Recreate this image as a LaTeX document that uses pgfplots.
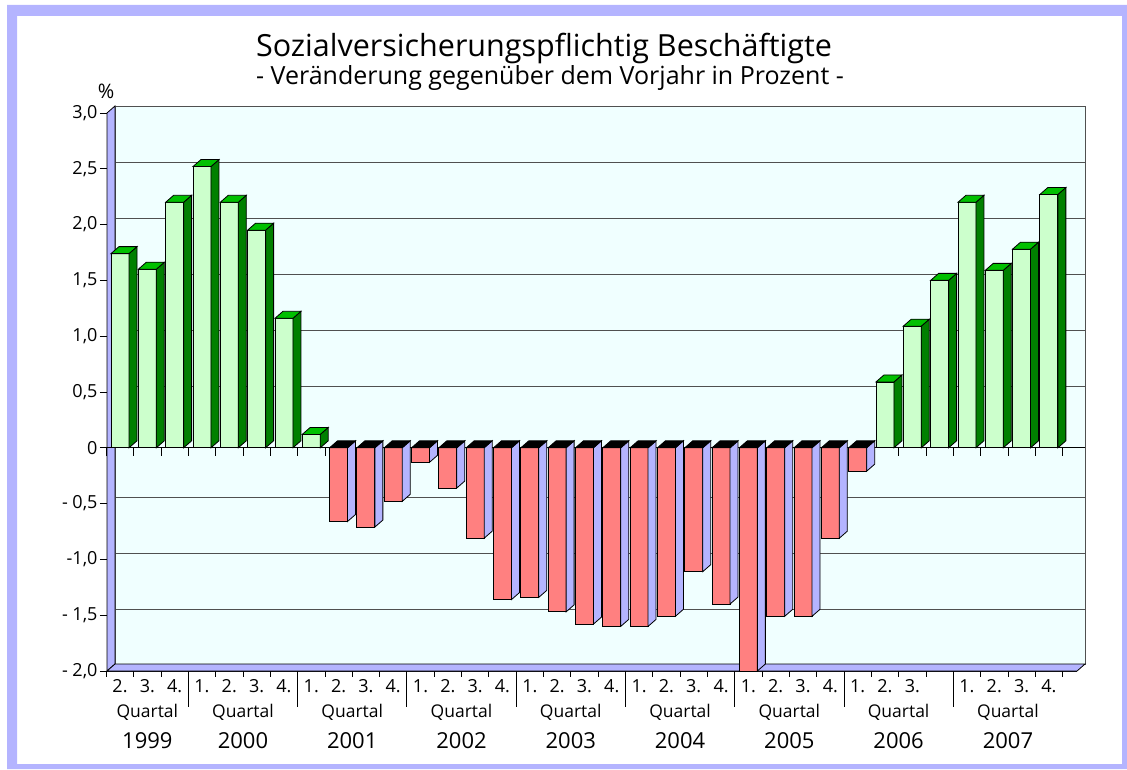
\documentclass[border=0pt]{standalone}
\usepackage{pgfplots}
\pgfplotsset{compat=1.18}
\usepackage{pgfplotstable}
\usepackage{fontspec}
\setmainfont{Open Sans}
\definecolor{lav}{HTML}{B4B4FF}
\definecolor{wall}{HTML}{F0FFFF}
\definecolor{gfront}{HTML}{CCFFCC}
\definecolor{gside}{HTML}{008000}
\definecolor{gtop}{HTML}{00C000}
\definecolor{rfront}{HTML}{FF8080}
\definecolor{gridc}{HTML}{505050}

% positive quarters (index, value)
\pgfplotstableread{
x v
1 1.74
2 1.60
3 2.20
4 2.52
5 2.20
6 1.95
7 1.16
8 0.12
29 0.59
30 1.09
31 1.50
32 2.20
33 1.59
34 1.78
35 2.27
}\postab
% negative quarters
\pgfplotstableread{
x v
9 -0.66
10 -0.71
11 -0.48
12 -0.13
13 -0.36
14 -0.81
15 -1.36
16 -1.34
17 -1.47
18 -1.58
19 -1.60
20 -1.60
21 -1.51
22 -1.11
23 -1.40
24 -2.00
25 -1.51
26 -1.51
27 -0.81
28 -0.21
}\negtab

\begin{document}
\begin{tikzpicture}
\useasboundingbox (0pt,0pt) rectangle (1127pt,769pt);
\fill[lav,even odd rule] (7pt,0pt) rectangle (1127pt,764pt) (17pt,5pt) rectangle (1122pt,753pt);
\node[font=\fontsize{30.5}{36}\selectfont] at (544pt,720pt) {Sozialversicherungspflichtig Beschäftigte};
\node[font=\fontsize{25}{30}\selectfont] at (550pt,691pt) {- Veränderung gegenüber dem Vorjahr in Prozent -};
\node[font=\fontsize{20}{24}\selectfont] at (106pt,678pt) {\%};
\begin{axis}[
  at={(107pt,98pt)}, anchor=south west,
  x=27.32pt, y=111.6pt,
  xmin=0.524, xmax=36.03, ymin=-2, ymax=3,
  clip=false,
  axis x line*=bottom, axis y line*=left,
  axis line style={black, line width=0.8pt, -},
  tick label style={font=\fontsize{18}{22}\selectfont},
  ytick={-2,-1.5,-1,-0.5,0,0.5,1,1.5,2,2.5,3},
  yticklabels={{- 2,0},{- 1,5},{-1,0},{- 0,5},0,{0,5},{1,0},{1,5},{2,0},{2,5},{3,0}},
  ytick style={black, line width=0.8pt},
  y tick label style={xshift=1pt},
  tick align=outside,
  major tick length=7pt,
  xtick={1,...,35},
  xticklabels={2.,3.,4.,1.,2.,3.,4.,1.,2.,3.,4.,1.,2.,3.,4.,1.,2.,3.,4.,1.,2.,3.,4.,1.,2.,3.,4.,1.,2.,3.,{},1.,2.,3.,4.},
  xtick style={draw=none},
  x tick label style={yshift=2pt},
]
% back wall, left wall, floor
\filldraw[fill=wall, draw=gridc, line width=0.8pt] ([shift={(8pt,7pt)}]axis cs:0.524,-2) rectangle ([shift={(8pt,7pt)}]axis cs:36.03,3);
\pgfplotsinvokeforeach{-1.5,-1,-0.5,0.5,1,1.5,2,2.5}{
  \draw[gridc, line width=0.9pt] ([shift={(8pt,6pt)}]axis cs:0.524,#1) -- ([shift={(8pt,6pt)}]axis cs:36.03,#1);
}
\filldraw[fill=lav, draw=black, line width=0.8pt] (axis cs:0.524,3) -- ([shift={(8pt,7pt)}]axis cs:0.524,3) -- ([shift={(8pt,7pt)}]axis cs:0.524,-2) -- (axis cs:0.524,-2) -- cycle;
\filldraw[fill=lav, draw=black, line width=0.8pt] (axis cs:0.524,-2) -- ([shift={(8pt,7pt)}]axis cs:0.524,-2) -- ([shift={(8pt,7pt)}]axis cs:36.03,-2) -- (axis cs:36.03,-2) -- cycle;
% zero line and its small ticks
\draw[black, line width=0.8pt] (axis cs:0.524,0) -- ([xshift=8pt]axis cs:36.03,0);
\pgfplotsinvokeforeach{0.5,1.5,...,35.5}{
  \draw[black, line width=0.8pt] (axis cs:#1,0) -- ++(0pt,-8pt);
  \draw[black, line width=0.8pt] (axis cs:#1,-2) -- ++(0pt,-6pt);
}
\pgfplotsinvokeforeach{3.5,7.5,11.5,15.5,19.5,23.5,27.5,31.5}{
  \draw[black, line width=0.8pt] (axis cs:#1,-2) -- ++(0pt,-36pt);
}
% positive bars
\addplot[
  scatter, only marks, mark=text, text mark={},
  visualization depends on={rawy \as \val},
  scatter/@pre marker code/.code={%
    \pgfmathsetmacro\h{-\val*111.6}%
    \filldraw[fill=gfront,draw=black,line width=0.8pt] (-9pt,0pt) rectangle (9pt,\h pt);
    \filldraw[fill=gside,draw=black,line width=0.8pt] (9pt,0pt) -- (17pt,7pt) -- (17pt,\h pt+7pt) -- (9pt,\h pt) -- cycle;
    \filldraw[fill=gtop,draw=black,line width=0.8pt] (-9pt,0pt) -- (-1pt,7pt) -- (17pt,7pt) -- (9pt,0pt) -- cycle;
  },
  scatter/@post marker code/.code={},
] table[x=x,y=v] {\postab};
% negative bars
\addplot[
  scatter, only marks, mark=text, text mark={},
  visualization depends on={rawy \as \val},
  scatter/@pre marker code/.code={%
    \pgfmathsetmacro\h{-\val*111.6}%
    \filldraw[fill=rfront,draw=black,line width=0.8pt] (-9pt,0pt) rectangle (9pt,\h pt);
    \filldraw[fill=lav,draw=black,line width=0.8pt] (9pt,0pt) -- (17pt,7pt) -- (17pt,\h pt+7pt) -- (9pt,\h pt) -- cycle;
    \filldraw[fill=black,draw=black,line width=0.8pt] (-9pt,\h pt) -- (-1pt,\h pt+7pt) -- (17pt,\h pt+7pt) -- (9pt,\h pt) -- cycle;
  },
  scatter/@post marker code/.code={},
] table[x=x,y=v] {\negtab};
% group labels
\foreach \p/\yr in {2/1999,5.5/2000,9.5/2001,13.5/2002,17.5/2003,21.5/2004,25.5/2005,29.5/2006,33.5/2007}{
  \edef\tmp{\noexpand\node[font=\noexpand\fontsize{17.5}{21}\noexpand\selectfont] at ([yshift=-41pt]axis cs:\p,-2) {Quartal};
    \noexpand\node[font=\noexpand\fontsize{22}{26}\noexpand\selectfont] at ([yshift=-70pt]axis cs:\p,-2) {\yr};}
  \tmp
}
\end{axis}
\end{tikzpicture}
\end{document}
